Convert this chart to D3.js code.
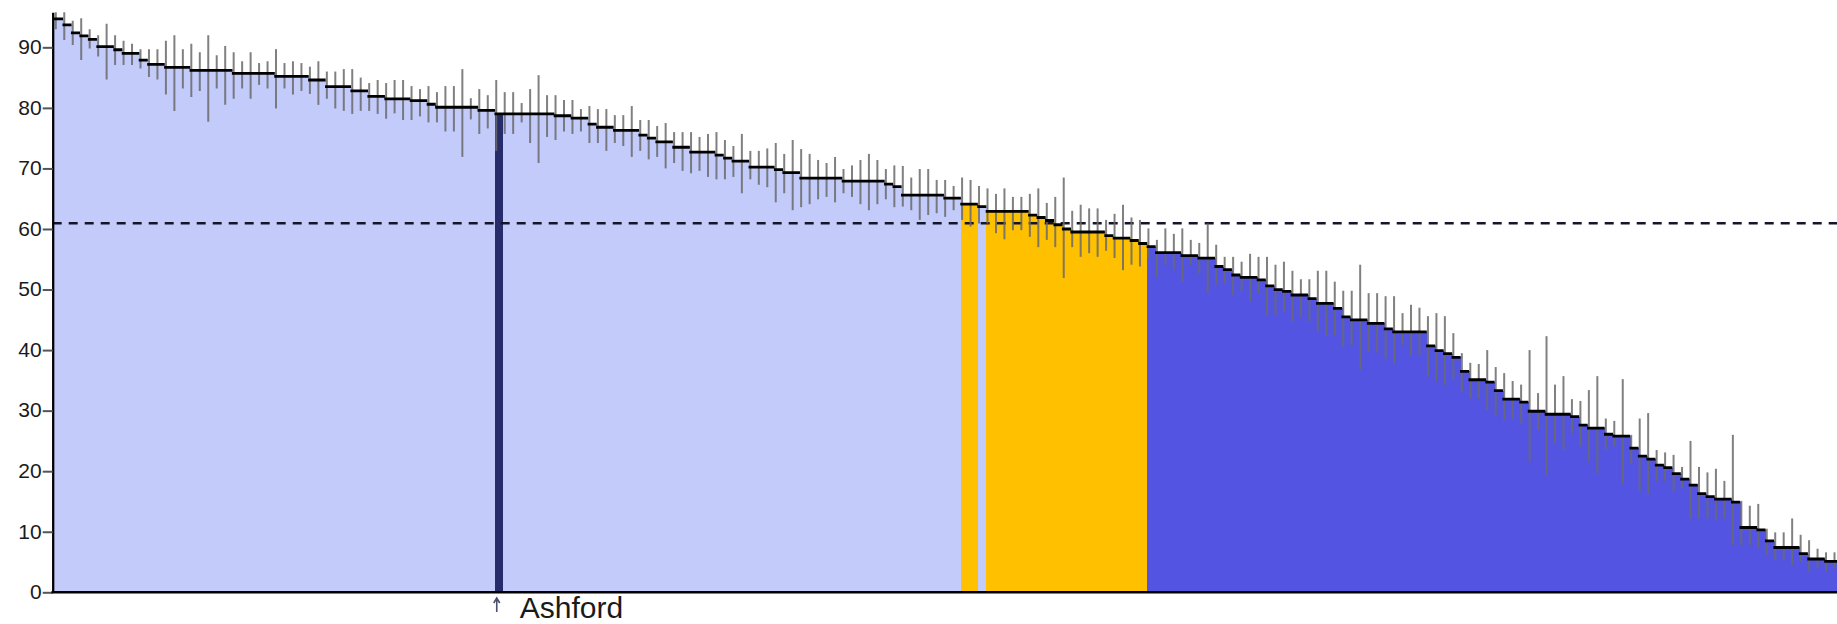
<!DOCTYPE html>
<html><head><meta charset="utf-8">
<script src="https://cdn.jsdelivr.net/npm/d3@7"></script>
<style>html,body{margin:0;padding:0;background:#fff;}svg{display:block;}</style>
</head><body>
<svg id="chart" width="1837" height="624"></svg>
<script>
// ---- data ----
const values = [
94.7,93.7,92.4,91.9,91.3,90.1,90.1,89.6,89.0,89.0,
87.9,87.2,87.2,86.7,86.7,86.7,86.2,86.2,86.2,86.2,
86.2,85.7,85.7,85.7,85.7,85.7,85.2,85.2,85.2,85.2,
84.6,84.6,83.5,83.5,83.5,82.8,82.8,81.9,81.9,81.5,
81.5,81.5,81.2,81.2,80.6,80.1,80.1,80.1,80.1,80.1,
79.6,79.6,79.0,79.0,79.0,79.0,79.0,79.0,79.0,78.7,
78.7,78.3,78.3,77.3,76.8,76.8,76.3,76.3,76.3,75.5,
75.0,74.4,74.4,73.5,73.5,72.7,72.7,72.7,72.2,71.7,
71.2,71.2,70.2,70.2,70.2,69.8,69.3,69.3,68.4,68.4,
68.4,68.4,68.4,67.9,67.9,67.9,67.9,67.9,67.4,67.0,
65.6,65.6,65.6,65.6,65.6,65.1,65.1,64.1,64.1,63.7,
62.9,62.9,62.9,62.9,62.9,62.3,61.9,61.4,60.7,60.0,
59.5,59.5,59.5,59.5,58.9,58.5,58.5,58.1,57.6,57.1,
56.1,56.1,56.1,55.6,55.6,55.2,55.2,53.8,53.3,52.4,
52.0,52.0,51.6,50.6,50.0,49.7,49.1,49.1,48.5,47.7,
47.7,46.9,45.5,45.0,45.0,44.4,44.4,43.5,43.0,43.0,
43.0,43.0,40.7,39.9,39.4,38.8,36.5,35.1,35.1,34.7,
33.3,31.9,31.9,31.4,29.9,29.9,29.4,29.4,29.4,29.0,
27.6,27.1,27.1,26.1,25.8,25.8,23.8,22.5,22.0,21.0,
20.6,19.6,18.7,17.7,16.3,15.8,15.4,15.4,14.9,10.7,
10.7,10.3,8.5,7.4,7.4,7.4,6.4,5.5,5.5,5.1,5.1];

const lower = [
93.0,91.2,90.4,87.9,89.8,88.5,84.7,87.1,87.1,87.1,
86.5,85.1,84.7,82.2,79.5,83.2,81.8,82.8,77.7,83.2,
80.5,81.5,83.2,81.5,83.8,83.2,79.9,83.2,82.2,82.8,
82.3,80.5,81.5,79.9,79.5,79.0,79.5,79.5,79.0,78.2,
79.1,78.0,78.0,78.6,77.6,77.6,76.1,76.1,71.9,78.1,
75.7,76.6,72.9,75.7,75.7,77.6,74.2,70.9,75.2,74.7,
76.1,75.7,76.1,74.2,74.2,72.9,74.2,73.7,71.9,72.9,
71.5,71.9,70.0,70.9,69.6,69.2,69.6,68.6,68.2,68.2,
68.6,65.9,68.2,67.3,66.9,64.4,65.9,63.1,63.6,64.1,
64.9,65.3,64.4,65.9,65.3,64.1,63.1,64.1,64.9,63.6,
63.7,63.1,61.5,62.3,62.6,62.0,63.1,61.5,60.4,60.9,
60.9,59.3,58.3,59.8,59.8,58.7,57.0,58.2,57.0,51.9,
57.0,55.4,56.0,55.4,56.4,55.2,53.2,54.1,53.8,55.2,
52.1,54.1,53.2,51.3,54.1,52.7,49.5,50.8,51.0,49.1,
49.7,48.0,49.4,45.8,45.8,46.3,44.7,45.5,44.7,43.0,
42.5,42.5,40.6,40.8,36.7,39.7,39.6,38.6,37.8,40.8,
39.2,39.2,35.6,34.8,34.2,35.1,33.1,32.0,32.0,30.1,
29.3,28.5,28.7,27.9,21.6,26.8,19.4,24.6,23.5,26.3,
24.1,21.6,19.6,23.5,24.1,18.0,21.3,16.6,16.2,18.3,
18.4,16.6,17.2,12.2,12.2,12.2,11.9,12.2,7.8,7.8,
7.8,7.3,6.2,5.3,5.3,4.5,5.1,3.4,4.0,3.4,4.0];

const upper = [
95.8,95.8,94.4,94.8,93.0,92.0,93.9,92.0,91.1,90.6,
89.7,89.7,89.7,91.1,92.0,89.7,90.6,89.2,92.0,88.7,
90.2,89.2,87.7,89.2,87.4,87.7,89.7,87.4,87.7,87.4,
86.8,87.7,86.0,86.0,86.4,86.4,85.0,84.1,84.6,84.1,
84.6,84.6,83.6,83.1,83.6,82.6,83.6,83.6,86.4,81.6,
83.1,82.1,84.6,82.6,82.6,80.8,83.1,85.4,82.1,82.1,
81.3,81.3,79.8,80.3,79.8,79.8,78.8,78.8,80.3,78.0,
78.0,77.0,77.5,76.0,76.0,76.0,75.2,75.7,76.0,74.7,
73.7,75.7,72.9,72.9,73.3,74.2,72.4,74.7,73.2,72.4,
71.4,70.9,71.9,69.9,70.5,71.4,72.4,71.4,69.9,70.5,
70.4,68.5,69.9,69.9,68.1,68.1,67.1,68.5,68.1,67.1,
66.7,65.8,66.7,65.3,65.3,65.8,66.7,64.3,65.3,68.5,
63.0,64.0,63.4,63.4,61.5,62.5,64.0,61.9,61.5,60.1,
58.2,60.1,59.2,60.1,58.2,57.7,60.9,57.4,55.4,55.4,
54.6,55.9,55.4,55.4,54.1,54.6,53.1,51.7,51.7,53.1,
53.1,51.3,49.8,49.8,54.1,49.4,49.4,48.9,48.9,46.1,
47.5,47.0,45.6,46.1,45.6,42.8,39.5,37.9,37.7,40.0,
37.2,36.2,34.9,34.3,40.0,32.9,42.3,34.3,35.7,31.9,
31.6,33.4,35.7,28.7,28.3,35.2,26.0,28.7,29.6,23.5,
23.1,22.7,20.7,25.0,20.7,19.8,20.4,18.4,26.0,15.1,
14.3,14.6,10.5,9.9,9.9,12.2,9.5,8.6,7.2,6.6,6.6];

const highlightName = "Ashford";
const highlightIndex = 52;
const categories = values.map((v, i) => i === highlightIndex ? highlightName : "Area " + (i + 1));
const orangeRanges = [[107, 108], [110, 128]];   // bars in the amber band
const blueFrom = 129;                             // bars below the benchmark band
const benchmark = 60.94;
const yTicks = [0, 10, 20, 30, 40, 50, 60, 70, 80, 90];

// ---- styles ----
const COL_BASE = "#c3cbfb", COL_HI = "#262b69", COL_AMBER = "#ffc000", COL_LOW = "#5355e2";
function groupColor(i) {
  if (i === highlightIndex) return COL_HI;
  if (i >= blueFrom) return COL_LOW;
  for (const [a, b] of orangeRanges) if (i >= a && i <= b) return COL_AMBER;
  return COL_BASE;
}

const W = 1837, H = 624;
const svg = d3.select("#chart");
const axisX = 52.7, plotRight = 1837;
const bandW = 8.47;
const x = d3.scaleBand().domain(categories).range([54.3, 54.3 + bandW * categories.length]).padding(0);
const y = d3.scaleLinear().domain([0, 95.8]).range([592.3, 12.2]);

svg.append("rect").attr("width", W).attr("height", H).attr("fill", "#fff");
svg.append("defs").append("clipPath").attr("id", "plotclip")
  .append("rect").attr("x", axisX).attr("y", 0).attr("width", plotRight - axisX).attr("height", H);

const data = categories.map((c, i) => ({c, i, v: values[i], lo: lower[i], hi: upper[i]}));
const plot = svg.append("g").attr("clip-path", "url(#plotclip)");

// bars (crisp edges so neighbouring bars don't show seams)
plot.append("g").attr("shape-rendering", "crispEdges")
  .selectAll("rect").data(data).join("rect")
  .attr("x", d => x(d.c))
  .attr("width", x.bandwidth() + 1)
  .attr("y", d => y(d.v))
  .attr("height", d => y(0) - y(d.v))
  .attr("fill", d => groupColor(d.i));
// redraw highlight on top so its right neighbour's overlap doesn't hide it
plot.append("rect").attr("shape-rendering", "crispEdges")
  .attr("x", x(highlightName)).attr("width", x.bandwidth())
  .attr("y", y(values[highlightIndex])).attr("height", y(0) - y(values[highlightIndex]))
  .attr("fill", COL_HI);

// benchmark dashed line
plot.append("line")
  .attr("x1", axisX).attr("x2", plotRight)
  .attr("y1", y(benchmark)).attr("y2", y(benchmark))
  .attr("stroke", "#15152a").attr("stroke-width", 2.5)
  .attr("stroke-dasharray", "9,7");

// error bars
plot.append("g").selectAll("line").data(data).join("line")
  .attr("x1", d => x(d.c) + 1.5).attr("x2", d => x(d.c) + 1.5)
  .attr("y1", d => y(d.lo)).attr("y2", d => y(d.hi))
  .attr("stroke", "#6a6a6a").attr("stroke-opacity", 0.85).attr("stroke-width", 2);

// step tops
plot.append("path")
  .attr("d", data.map(d => `M${x(d.c) - 0.3},${y(d.v)}H${x(d.c) + x.bandwidth() + 0.3}`).join(""))
  .attr("stroke", "#000").attr("stroke-width", 2.8).attr("fill", "none");

// y axis
const yAxis = svg.append("g").attr("transform", `translate(${axisX},0)`)
  .call(d3.axisLeft(y).tickValues(yTicks).tickSize(10).tickSizeOuter(0).tickPadding(1));
yAxis.select(".domain").attr("stroke", "#000").attr("stroke-width", 2.3);
yAxis.selectAll(".tick line").attr("stroke", "#555").attr("stroke-width", 2);
yAxis.selectAll(".tick text")
  .attr("font-family", "'Liberation Sans', Arial, sans-serif")
  .attr("font-size", 21).attr("fill", "#1a1a1a").attr("dy", "0.3em");

// x axis baseline
svg.append("line").attr("x1", axisX - 1.2).attr("x2", plotRight)
  .attr("y1", y(0)).attr("y2", y(0))
  .attr("stroke", "#000").attr("stroke-width", 2.5);

// highlight marker + label
const hx = x(highlightName) + 2;
svg.append("path")
  .attr("d", `M${hx},612 L${hx},598.5 M${hx - 3},603 L${hx},598 L${hx + 3},603`)
  .attr("stroke", "#4b4f70").attr("stroke-width", 1.6).attr("fill", "none");
svg.append("text").attr("x", hx + 23).attr("y", 617.5)
  .attr("font-family", "'Liberation Sans', Arial, sans-serif")
  .attr("font-size", 30).attr("fill", "#1a1a1a")
  .text(highlightName);
</script>
</body></html>
